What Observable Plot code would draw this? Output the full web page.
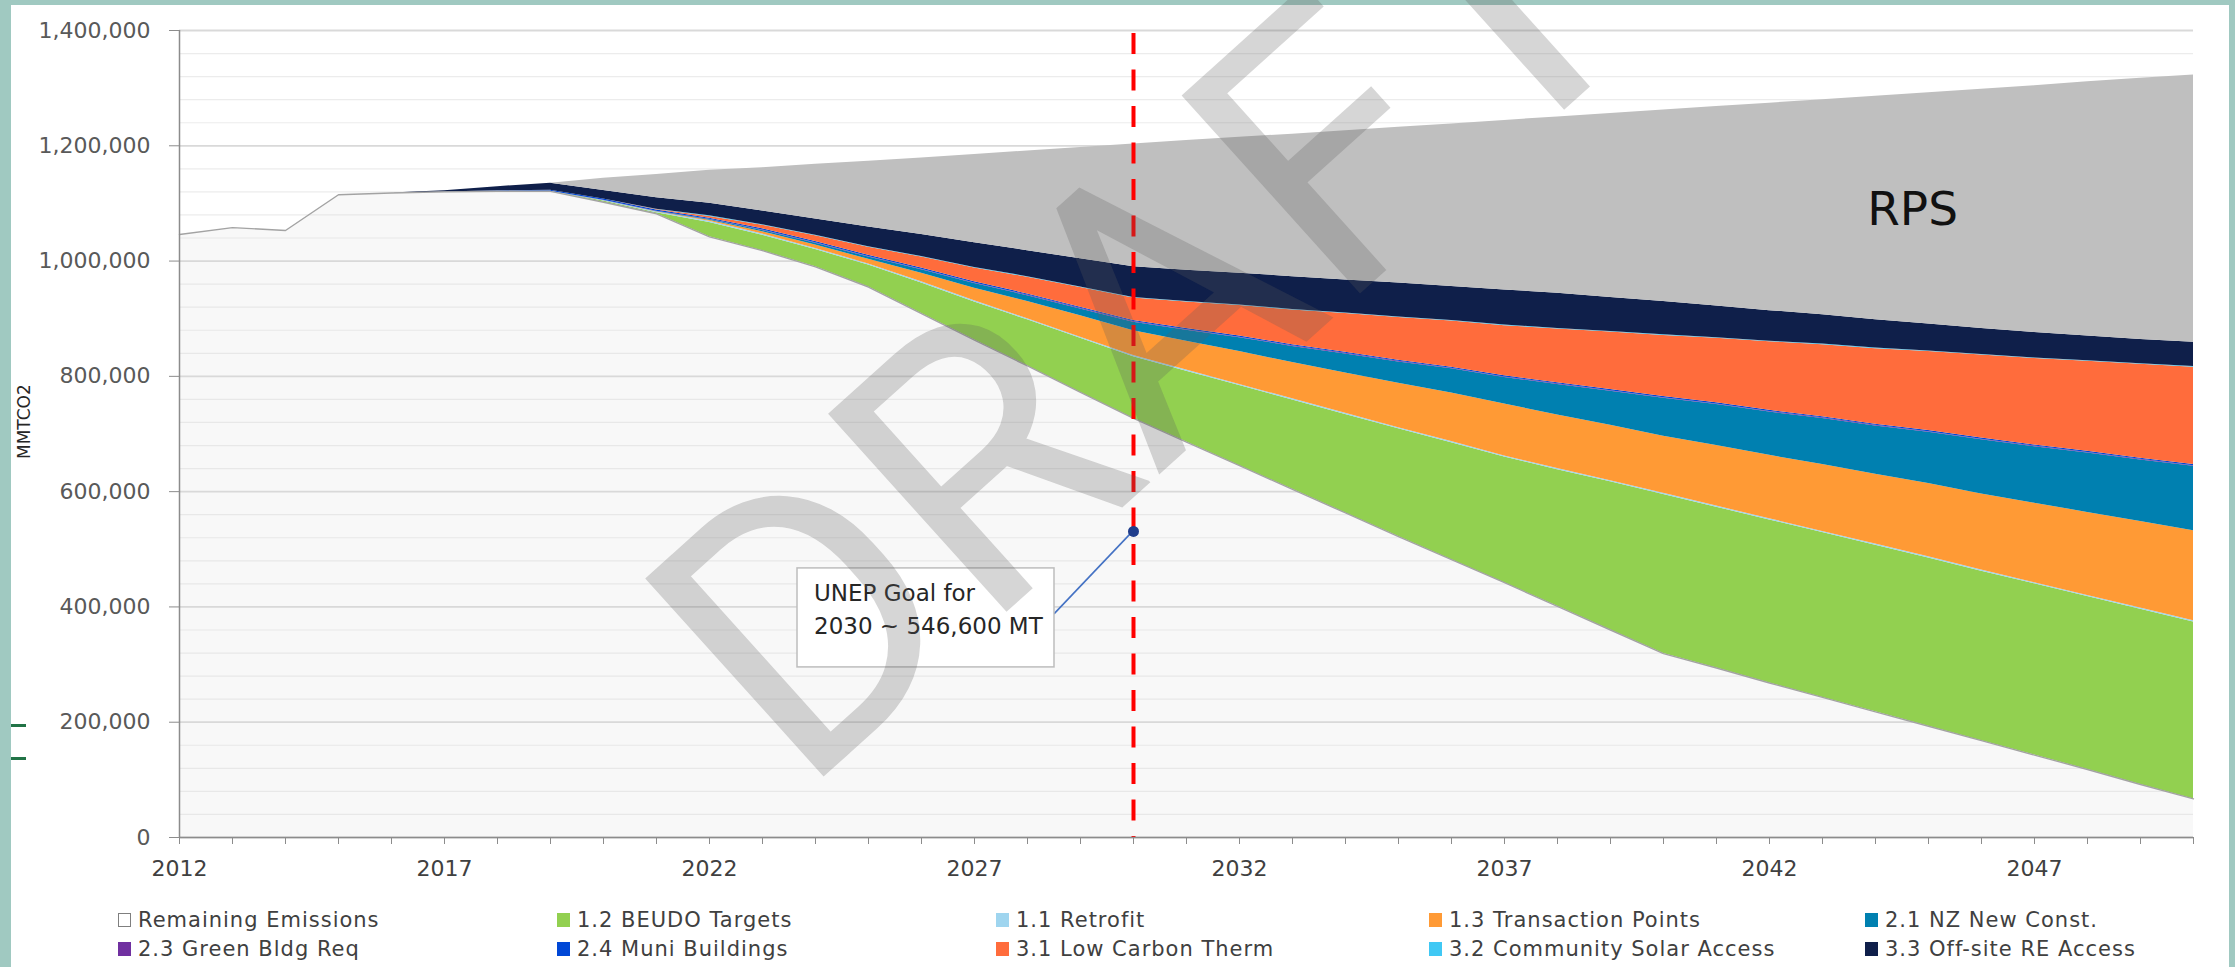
<!DOCTYPE html>
<html><head><meta charset="utf-8">
<script src="https://cdn.jsdelivr.net/npm/d3@7"></script>
<script src="https://cdn.jsdelivr.net/npm/@observablehq/plot@0.6"></script>
<style>
html,body{margin:0;padding:0;}
body{width:2235px;height:967px;background:#a0c9c1;position:relative;overflow:hidden;font-family:"DejaVu Sans",sans-serif;}
#panel{position:absolute;left:11px;top:5px;width:2218px;height:962px;background:#fff;}
#chart{position:absolute;left:0;top:0;}
.li{position:absolute;font-size:21px;letter-spacing:1px;color:#404040;white-space:nowrap;line-height:21px;}
.sw{display:inline-block;width:13px;height:14px;margin-right:7px;vertical-align:0px;box-sizing:border-box}
.dash{position:absolute;left:11px;width:15px;height:3px;background:#217346}
</style></head><body>
<div id="panel"></div>
<div class="dash" style="top:724px"></div>
<div class="dash" style="top:757px"></div>
<div id="chart"></div>
<div id="legend"></div>
<script>
// ---- data (values in thousand metric tons) ----
const years = [2012,2013,2014,2015,2016,2017,2018,2019,2020,2021,2022,2023,2024,2025,2026,2027,2028,2029,2030,2031,2032,2033,2034,2035,2036,2037,2038,2039,2040,2041,2042,2043,2044,2045,2046,2047,2048,2049,2050];
const labelYears = [2012,2017,2022,2027,2032,2037,2042,2047];
const majorTicks = [0,200000,400000,600000,800000,1000000,1200000,1400000];
const minorTicks = [40000,80000,120000,160000,240000,280000,320000,360000,440000,480000,520000,560000,640000,680000,720000,760000,840000,880000,920000,960000,1040000,1080000,1120000,1160000,1240000,1280000,1320000,1360000];

const seriesNames = ["Remaining Emissions","1.2 BEUDO Targets","1.1 Retrofit","1.3 Transaction Points","2.1 NZ New Const.","2.3 Green Bldg Req","2.4 Muni Buildings","3.1 Low Carbon Therm","3.2 Community Solar Access","3.3 Off-site RE Access","RPS"];
const seriesColors = ["#dcdcdc","#92d050","#9fd5ef","#ff9a35","#0080b0","#7030a0","#0047d6","#ff6c3c","#40c8f4","#0f1f4a","#bfbfbf"];
const legendOrder = ["Remaining Emissions","1.2 BEUDO Targets","1.1 Retrofit","1.3 Transaction Points","2.1 NZ New Const.","2.3 Green Bldg Req","2.4 Muni Buildings","3.1 Low Carbon Therm","3.2 Community Solar Access","3.3 Off-site RE Access"];

const remaining   = [1046,1058,1053,1115,1118,1120,1121,1121,1102,1082,1042,1018,990,955,909,863,818,772,727,686,645,604,563,522,482,442,401,360,319,294,268,243,218,193,168,143,118,92,67];
const beudo       = [0,0,0,0,0,0,0,0,2,2,25,27,30,38,53,66,80,94,107,123,139,155,171,187,203,218,237,257,276,279,283,286,289,292,294,297,300,304,307];
const retrofit    = [0,0,0,0,0,0,0,0,1,1,2,2,2,2,2,2,2,2,2,2,2,2,2,2,2,2,2,2,2,2,2,2,2,2,2,2,2,2,2];
const transaction = [0,0,0,0,0,0,0,0,0,0.5,2,4,6,8,15,22,30,37,43,50,57,63,70,77,84,90,93,96,99,105,110,116,121,127,132,138,144,150,156];
const nzNew       = [0,0,0,0,0,0,0,0,0,0.5,1,2,3,4,6,8,10,12,15,19,24,28,33,37,42,46,53,59,66,71,75,80,84,89,94,98,103,107,112];
const greenBldg   = [0,0,0,0,0,0,0,0,0.5,0.5,0.5,1,1,1,1,1,1,1,1,1,1,1,1,1,1,1,1,1,1,1,1,1,1,1,1,1,1,1,1];
const muni        = [0,0,0,0,0,0,1,2,2,2,2,2,2,2,2,2,2,2,2,2,2,2,2,2,2,2,2,2,2,2,2,2,2,2,2,2,2,2,2];
const lowCarbon   = [0,0,0,0,0,0,0,0,0,1,3,6,10,14,19,24,29,34,39,46,53,60,67,74,80,87,93,100,106,112,119,125,131,137,144,150,156,163,169];
const solar       = [0,0,0,0,0,0,0,0,0,0.5,1,1,1,1,1,1,1,1,1,1,1,1,1,1,1,1,1,1,1,1,1,1,1,1,1,1,1,1,1];
const offsite     = [0,0,0,0,0,2,7,12,15,20,22,24,28,34,38,43,45,49,53,54,55,57,57,59,59,61,61,59,58,55,53,51,49,47,45,44,43,42,42];
const rps         = [0,0,0,0,0,0,0,0,21,40,57,75,95,114,133,153,173,193,213,225,236,247,259,270,282,294,306,319,332,346,360,373,388,401,415,428,441,453,464];

const goal = {year: 2030, value: 531000, line1: "UNEP Goal for", line2: "2030 ~ 546,600 MT"};
const rpsLabel = {year: 2044.7, value: 1088000, text: "RPS"};
const yLabel = "MMTCO2";

// ---- table ----
const seriesValues = [remaining,beudo,retrofit,transaction,nzNew,greenBldg,muni,lowCarbon,solar,offsite,rps];
const table = seriesNames.flatMap((s,i) => years.map((yr,j) => ({series: s, year: yr, value: seriesValues[i][j]*1000})));

const chart = Plot.plot({
  width: 2235, height: 900,
  marginLeft: 179, marginRight: 42, marginTop: 30, marginBottom: 63,
  x: {domain: [years[0], years[years.length-1]]},
  y: {domain: [majorTicks[0], majorTicks[majorTicks.length-1]]},
  color: {domain: seriesNames, range: seriesColors},
  opacity: {type: "identity"},
  style: {background: "transparent", fontFamily: "DejaVu Sans, sans-serif", overflow: "visible"},
  marks: [
    Plot.ruleY(minorTicks, {stroke: "#ececec", strokeWidth: 1.2}),
    Plot.ruleY(majorTicks, {stroke: "#d9d9d9", strokeWidth: 1.8}),
    Plot.areaY(table, {x: "year", y: "value", z: "series", fill: "series",
      fillOpacity: d => d.series === seriesNames[0] ? 0.2 : 1, order: seriesNames}),
    Plot.lineY(table, {filter: d => d.series === seriesNames[0], x: "year", y: "value", stroke: "#a3a3a3", strokeWidth: 1.4}),
    Plot.ruleX([goal], {x: "year", stroke: "#ff0000", strokeWidth: 4, strokeDasharray: "21,15.5", strokeDashoffset: -3}),
    Plot.ruleX([years[0]], {stroke: "#8c8c8c", strokeWidth: 1.5}),
    Plot.ruleY([majorTicks[0]], {stroke: "#8c8c8c", strokeWidth: 1.5}),
    Plot.axisY({ticks: majorTicks, tickSize: 10, tickPadding: 19, tickFormat: d3.format(","), fontSize: 22, color: "#595959", stroke: "#8c8c8c", label: null}),
    Plot.axisX({ticks: years, tickSize: 7, tickPadding: 16, tickFormat: d => labelYears.includes(d) ? String(d) : "", fontSize: 22, color: "#404040", stroke: "#8c8c8c", label: null}),
    Plot.text([yLabel], {frameAnchor: "left", dx: -155, dy: 25, rotate: -90, fontSize: 17, fill: "#262626"}),
    Plot.text([rpsLabel], {x: "year", y: "value", text: "text", fontSize: 47, fill: "#111111"}),
    Plot.dot([goal], {x: "year", y: "value", r: 5.5, fill: "#1f3d8c"})
  ]
});
document.getElementById("chart").appendChild(chart);

// ---- callout box (anchored to the goal point through the scales) ----
const gx = chart.scale("x").apply(goal.year), gy = chart.scale("y").apply(goal.value);
const svg = d3.select(chart);
svg.append("line").attr("x1", gx).attr("y1", gy).attr("x2", gx - 79).attr("y2", gy + 83)
  .attr("stroke", "#4472c4").attr("stroke-width", 1.6);
svg.append("rect").attr("x", gx - 336).attr("y", gy + 37).attr("width", 257).attr("height", 99)
  .attr("fill", "#ffffff").attr("stroke", "#bdbdbd").attr("stroke-width", 1.5);
const t = svg.append("text").attr("font-size", 23).attr("fill", "#262626")
  .attr("font-family", "DejaVu Sans, sans-serif").attr("text-anchor", "start");
t.append("tspan").attr("x", gx - 319).attr("y", gy + 70).text(goal.line1);
t.append("tspan").attr("x", gx - 319).attr("y", gy + 103).text(goal.line2);
svg.select('g[aria-label="dot"]').raise();

// ---- watermark ----
svg.append("text").attr("transform", "translate(1140,310) rotate(-42)")
  .attr("text-anchor", "middle").attr("dy", "0.36em")
  .style("font-family", "Roboto, sans-serif").style("font-weight", 400).style("font-size", "375px")
  .attr("fill", "rgba(90,90,90,0.25)").text("DRAFT");

// ---- legend ----
const colLeft = [118, 557, 996, 1429, 1865];
const rowCenter = [921, 950];
const legend = document.getElementById("legend");
legendOrder.forEach((name, i) => {
  const col = i % 5, row = Math.floor(i / 5);
  const c = seriesColors[seriesNames.indexOf(name)];
  const item = document.createElement("div");
  item.className = "li";
  item.style.left = colLeft[col] + "px";
  item.style.top = (rowCenter[row] - 11) + "px";
  const sw = document.createElement("span");
  sw.className = "sw";
  if (i === 0) { sw.style.background = "#ffffff"; sw.style.border = "1px solid #7f7f7f"; }
  else sw.style.background = c;
  item.appendChild(sw);
  item.appendChild(document.createTextNode(name));
  legend.appendChild(item);
});
</script>
</body></html>
